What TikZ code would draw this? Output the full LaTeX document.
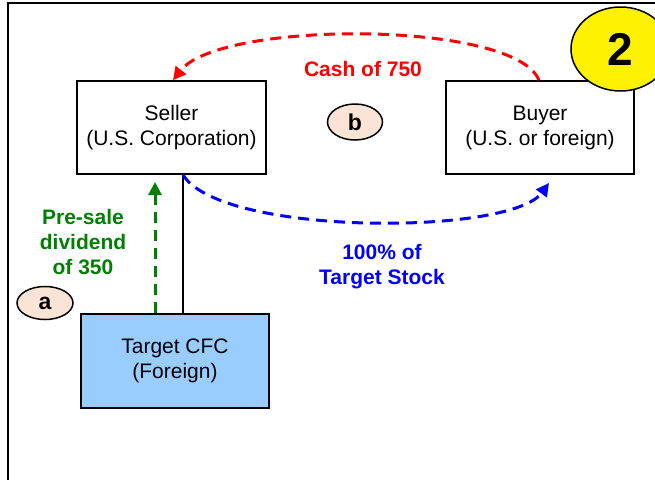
\documentclass[tikz,border=0pt]{standalone}
\usepackage{fontspec}
\setmainfont{Liberation Sans}
\usetikzlibrary{arrows.meta,calc,shapes.geometric}
\definecolor{boxblue}{HTML}{99CCFF}
\definecolor{peach}{HTML}{FBE3D6}
\definecolor{arrred}{HTML}{FF0000}
\definecolor{arrblue}{HTML}{0000FF}
\definecolor{arrgreen}{HTML}{008000}
\tikzset{
  entity/.style={draw=black, line width=1.5pt, fill=white, align=center, inner sep=0pt,
    font=\fontsize{21}{25}\selectfont},
  tag/.style={draw=black, line width=1.5pt, fill=peach, ellipse, inner sep=0pt,
    font=\bfseries\fontsize{23}{27}\selectfont},
  flow/.style={line width=3pt, dash pattern=on 11pt off 7pt, -{Triangle[length=13pt,width=13pt]}},
  lbl/.style={align=center, font=\bfseries\fontsize{21}{25}\selectfont, inner sep=0pt},
}
\begin{document}
\begin{tikzpicture}[x=1pt,y=-1pt]
\useasboundingbox (0,0) rectangle (655,480);
% frame
\coordinate (ftl) at (8,3);
\coordinate (ftr) at (655,3);
\coordinate (fbl) at (8,480);
\draw[line width=2.5pt] (ftr) -- (ftl) -- (fbl);
% boxes
\node[entity, minimum width=189pt, minimum height=93pt] (seller) at (171.5,127.5) {Seller\\(U.S. Corporation)};
\node[entity, minimum width=188pt, minimum height=93pt] (buyer) at (540,127.5) {Buyer\\(U.S. or foreign)};
\node[entity, fill=boxblue, minimum width=188pt, minimum height=94pt] (target) at (175,361) {Target CFC\\(Foreign)};
% ownership line
\coordinate (sown) at ($(seller.south)+(11.5,0)$);
\draw[line width=1.5pt] (sown) -- (sown |- target.north);
% tags
\node[tag, minimum width=56pt, minimum height=33pt] (a) at (45,303) {a};
\node[tag, minimum width=55pt, minimum height=36pt] (b) at (355,122) {b};
% cash arrow
\coordinate (cashstart) at ($(buyer.north)+(-1,0)$);
\coordinate (cashend) at ($(seller.north)+(1.5,0)$);
\draw[flow, arrred] (cashstart) .. controls (515,20) and (220,20) .. (cashend);
\node[lbl, text=arrred] (cashlbl) at (363,69) {Cash of 750};
% stock arrow
\coordinate (stockend) at (549,183);
\draw[flow, arrblue] (sown) .. controls (220,236) and (510,236) .. (stockend);
\node[lbl, text=arrblue] (stocklbl) at (382,267) {100\% of\\Target Stock};
% dividend arrow
\coordinate (divstart) at (155,0 |- target.north);
\coordinate (divend) at (155,182);
\draw[flow, arrgreen] (divstart) -- (divend);
\node[lbl, text=arrgreen] (divlbl) at (83,242) {Pre-sale\\dividend\\of 350};
% step number
\node[draw=black, line width=1.5pt, fill=yellow, ellipse, minimum width=99pt, minimum height=84pt,
  inner sep=0pt, font=\bfseries\fontsize{46}{50}\selectfont] (num) at (620.5,49) {2};
\end{tikzpicture}
\end{document}
